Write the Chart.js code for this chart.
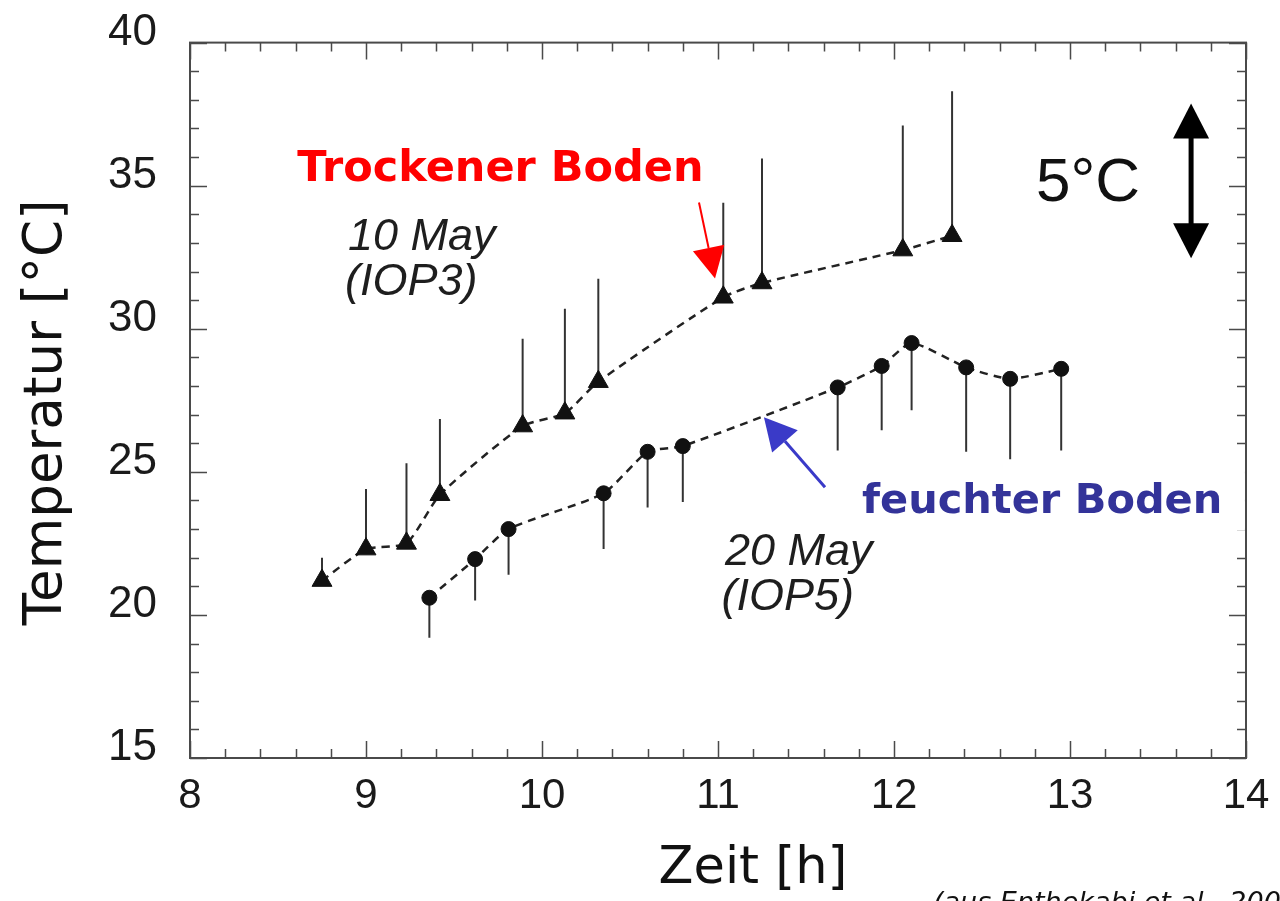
<!DOCTYPE html>
<html>
<head>
<meta charset="utf-8">
<script src="https://cdn.jsdelivr.net/npm/chart.js@4.4.1/dist/chart.umd.min.js"></script>
<style>
  html, body { margin: 0; padding: 0; background: #fff; }
  #wrap { width: 1280px; height: 901px; position: relative; }
</style>
</head>
<body>
<div id="wrap"><canvas id="tempChart"></canvas></div>
<script>
// 10 May (IOP3) - trockener Boden: time [h], temperature [°C], top of whisker
const dryTime = [8.75, 9.00, 9.23, 9.42, 9.89, 10.13, 10.32, 11.03, 11.25, 12.05, 12.33];
const dryTemp = [21.2, 22.3, 22.5, 24.2, 26.6, 27.05, 28.15, 31.1, 31.6, 32.75, 33.25];
const dryMax  = [22.0, 24.4, 25.3, 26.85, 29.65, 30.7, 31.75, 34.4, 35.95, 37.1, 38.3];

// 20 May (IOP5) - feuchter Boden: whiskers point down
const wetTime = [9.36, 9.62, 9.81, 10.35, 10.60, 10.80, 11.68, 11.93, 12.10, 12.41, 12.66, 12.95];
const wetTemp = [20.6, 21.95, 23.0, 24.25, 25.7, 25.9, 27.95, 28.7, 29.5, 28.65, 28.25, 28.6];
const wetMin  = [19.2, 20.5, 21.4, 22.3, 23.75, 23.95, 25.75, 26.45, 27.15, 25.7, 25.4, 25.75];

// tick labels (major ticks), minor ticks go in between
const xTickLabels = [8, 9, 10, 11, 12, 13, 14];
const yTickLabels = [15, 20, 25, 30, 35, 40];
const xMinorPerMajor = 5;   // every 0.2 h
const yMinorPerMajor = 5;   // every 1 °C

function points(ts, vs) {
  return ts.map((t, i) => ({ x: t, y: vs[i] }));
}

// vertical segments, separated by null so the line breaks
function whiskers(ts, from, to) {
  const out = [];
  ts.forEach((t, i) => {
    out.push({ x: t, y: from[i] }, { x: t, y: to[i] }, { x: t, y: null });
  });
  return out;
}

function withMinor(majors, n) {
  const ticks = [];
  for (let i = 0; i < majors.length; i++) {
    ticks.push({ value: majors[i], major: true });
    if (i < majors.length - 1) {
      const step = (majors[i + 1] - majors[i]) / n;
      for (let k = 1; k < n; k++) ticks.push({ value: majors[i] + k * step, major: false });
    }
  }
  return ticks;
}

function arrow(ctx, x1, y1, x2, y2, color, lw, headLen, headHalf) {
  const ang = Math.atan2(y2 - y1, x2 - x1);
  const bx = x2 - headLen * Math.cos(ang);
  const by = y2 - headLen * Math.sin(ang);
  ctx.strokeStyle = color;
  ctx.lineWidth = lw;
  ctx.beginPath();
  ctx.moveTo(x1, y1);
  ctx.lineTo(bx, by);
  ctx.stroke();
  ctx.fillStyle = color;
  ctx.beginPath();
  ctx.moveTo(x2, y2);
  ctx.lineTo(bx + headHalf * Math.sin(ang), by - headHalf * Math.cos(ang));
  ctx.lineTo(bx - headHalf * Math.sin(ang), by + headHalf * Math.cos(ang));
  ctx.closePath();
  ctx.fill();
}

const figureDecor = {
  id: 'figureDecor',
  beforeDatasetsDraw(chart) {
    const { ctx, chartArea: a, scales: { x, y } } = chart;
    ctx.save();
    ctx.strokeStyle = '#4a4a4a';
    ctx.lineWidth = 2;
    ctx.strokeRect(a.left, a.top, a.right - a.left, a.bottom - a.top);
    ctx.lineWidth = 1.5;
    ctx.beginPath();
    x.ticks.forEach(t => {
      const px = Math.round(x.getPixelForValue(t.value)) + 0.5;
      const len = t.major ? 17 : 9;
      ctx.moveTo(px, a.bottom); ctx.lineTo(px, a.bottom - len);
      ctx.moveTo(px, a.top); ctx.lineTo(px, a.top + len);
    });
    y.ticks.forEach(t => {
      const py = Math.round(y.getPixelForValue(t.value)) + 0.5;
      const len = t.major ? 17 : 9;
      ctx.moveTo(a.left, py); ctx.lineTo(a.left + len, py);
      ctx.moveTo(a.right, py); ctx.lineTo(a.right - len, py);
    });
    ctx.stroke();
    ctx.restore();
  },
  afterDatasetsDraw(chart) {
    const { ctx, scales: { x, y } } = chart;
    const X = v => x.getPixelForValue(v);
    const Y = v => y.getPixelForValue(v);
    ctx.save();

    // white label boxes
    ctx.fillStyle = '#fff';
    ctx.fillRect(X(8.47), Y(37.0), X(11.0) - X(8.47), Y(34.5) - Y(37.0));
    ctx.fillRect(X(11.665), Y(25.44), X(13.994) - X(11.665), Y(22.96) - Y(25.44));

    ctx.textAlign = 'left';
    ctx.textBaseline = 'alphabetic';

    ctx.fillStyle = '#ff0000';
    ctx.font = 'bold 43px "DejaVu Sans", Verdana, sans-serif';
    ctx.fillText('Trockener Boden', X(8.61), Y(35.15));
    arrow(ctx, X(10.892), Y(34.41), X(10.983), Y(31.76), '#ff0000', 2, 31, 16);

    ctx.fillStyle = '#333399';
    ctx.font = 'bold 41.5px "DejaVu Sans", Verdana, sans-serif';
    ctx.fillText('feuchter Boden', X(11.818), Y(23.55));
    arrow(ctx, X(11.608), Y(24.46), X(11.261), Y(26.91), '#3a3ac8', 3, 32, 17);

    ctx.fillStyle = '#1e1e1e';
    ctx.font = 'italic 45px "Liberation Sans", Arial, sans-serif';
    ctx.fillText('10 May', X(8.898), Y(32.74));
    ctx.fillText('(IOP3)', X(8.881), Y(31.17));
    ctx.fillText('20 May', X(11.04), Y(21.74));
    ctx.fillText('(IOP5)', X(11.02), Y(20.17));

    // 5 °C scale marker
    ctx.fillStyle = '#111';
    ctx.font = '62px "Liberation Sans", Arial, sans-serif';
    ctx.fillText('5°C', X(12.807), Y(34.48));
    const ax = X(13.688), topY = Y(37.87), botY = Y(32.46);
    ctx.strokeStyle = '#000';
    ctx.lineWidth = 5;
    ctx.beginPath();
    ctx.moveTo(ax, topY + 30);
    ctx.lineTo(ax, botY - 30);
    ctx.stroke();
    ctx.fillStyle = '#000';
    ctx.beginPath();
    ctx.moveTo(ax, topY); ctx.lineTo(ax - 18, topY + 35); ctx.lineTo(ax + 18, topY + 35);
    ctx.closePath(); ctx.fill();
    ctx.beginPath();
    ctx.moveTo(ax, botY); ctx.lineTo(ax - 18, botY - 35); ctx.lineTo(ax + 18, botY - 35);
    ctx.closePath(); ctx.fill();
    ctx.restore();
  },
  afterDraw(chart) {
    const { ctx, chartArea: a } = chart;
    ctx.save();
    ctx.fillStyle = '#111';
    ctx.textAlign = 'center';
    ctx.textBaseline = 'middle';
    ctx.font = '53px "DejaVu Sans", Verdana, sans-serif';
    ctx.translate(47, (a.top + a.bottom) / 2 + 12);
    ctx.rotate(-Math.PI / 2);
    ctx.fillText('Temperatur [°C]', 0, 0);
    ctx.restore();

    ctx.save();
    ctx.fillStyle = '#111';
    ctx.textAlign = 'center';
    ctx.textBaseline = 'middle';
    ctx.font = '51px "DejaVu Sans", Verdana, sans-serif';
    ctx.fillText('Zeit [h]', (a.left + a.right) / 2 + 35, 870);

    ctx.textAlign = 'left';
    ctx.textBaseline = 'alphabetic';
    ctx.font = 'italic 27px "DejaVu Sans", Verdana, sans-serif';
    ctx.fillText('(aus Enthekabi et al., 200', 933, 911);
    ctx.restore();
  }
};

const tickFont = { family: '"Liberation Sans", Arial, sans-serif' };

new Chart(document.getElementById('tempChart'), {
  type: 'scatter',
  data: {
    datasets: [
      {
        label: '10 May (IOP3)',
        data: points(dryTime, dryTemp),
        showLine: true,
        borderColor: '#222',
        borderWidth: 2.5,
        borderDash: [8, 6],
        tension: 0.2,
        pointStyle: 'triangle',
        pointRadius: 11.5,
        pointBackgroundColor: '#111',
        pointBorderColor: '#111',
        pointBorderWidth: 1
      },
      {
        label: '20 May (IOP5)',
        data: points(wetTime, wetTemp),
        showLine: true,
        borderColor: '#222',
        borderWidth: 2.5,
        borderDash: [8, 6],
        tension: 0.2,
        pointStyle: 'circle',
        pointRadius: 7.5,
        pointBackgroundColor: '#111',
        pointBorderColor: '#111',
        pointBorderWidth: 1
      },
      {
        label: '10 May range',
        data: whiskers(dryTime, dryTemp, dryMax),
        showLine: true,
        spanGaps: false,
        tension: 0,
        borderColor: '#333',
        borderWidth: 2,
        pointRadius: 0
      },
      {
        label: '20 May range',
        data: whiskers(wetTime, wetTemp, wetMin),
        showLine: true,
        spanGaps: false,
        tension: 0,
        borderColor: '#333',
        borderWidth: 2,
        pointRadius: 0
      }
    ]
  },
  options: {
    responsive: true,
    maintainAspectRatio: false,
    animation: false,
    layout: { padding: { top: 42, right: 34, left: 0, bottom: 0 } },
    plugins: {
      legend: { display: false },
      tooltip: { enabled: false },
      title: { display: false }
    },
    scales: {
      x: {
        type: 'linear',
        min: 8,
        max: 14,
        grid: { display: false },
        border: { display: false },
        afterBuildTicks: axis => { axis.ticks = withMinor(xTickLabels, xMinorPerMajor); },
        afterFit: axis => { axis.height = 143; },
        ticks: {
          autoSkip: false,
          maxRotation: 0,
          padding: 5,
          color: '#1a1a1a',
          font: { ...tickFont, size: 42 },
          callback: function(value) {
            return xTickLabels.includes(value) ? String(value) : '';
          }
        }
      },
      y: {
        type: 'linear',
        min: 15,
        max: 40,
        grid: { display: false },
        border: { display: false },
        afterBuildTicks: axis => { axis.ticks = withMinor(yTickLabels, yMinorPerMajor); },
        afterFit: axis => { axis.width = 190; },
        ticks: {
          autoSkip: false,
          padding: 25,
          labelOffset: -10,
          color: '#1a1a1a',
          font: { ...tickFont, size: 44, lineHeight: 0.8 },
          callback: function(value) {
            return yTickLabels.includes(value) ? String(value) : '';
          }
        }
      }
    }
  },
  plugins: [figureDecor]
});
</script>
</body>
</html>
